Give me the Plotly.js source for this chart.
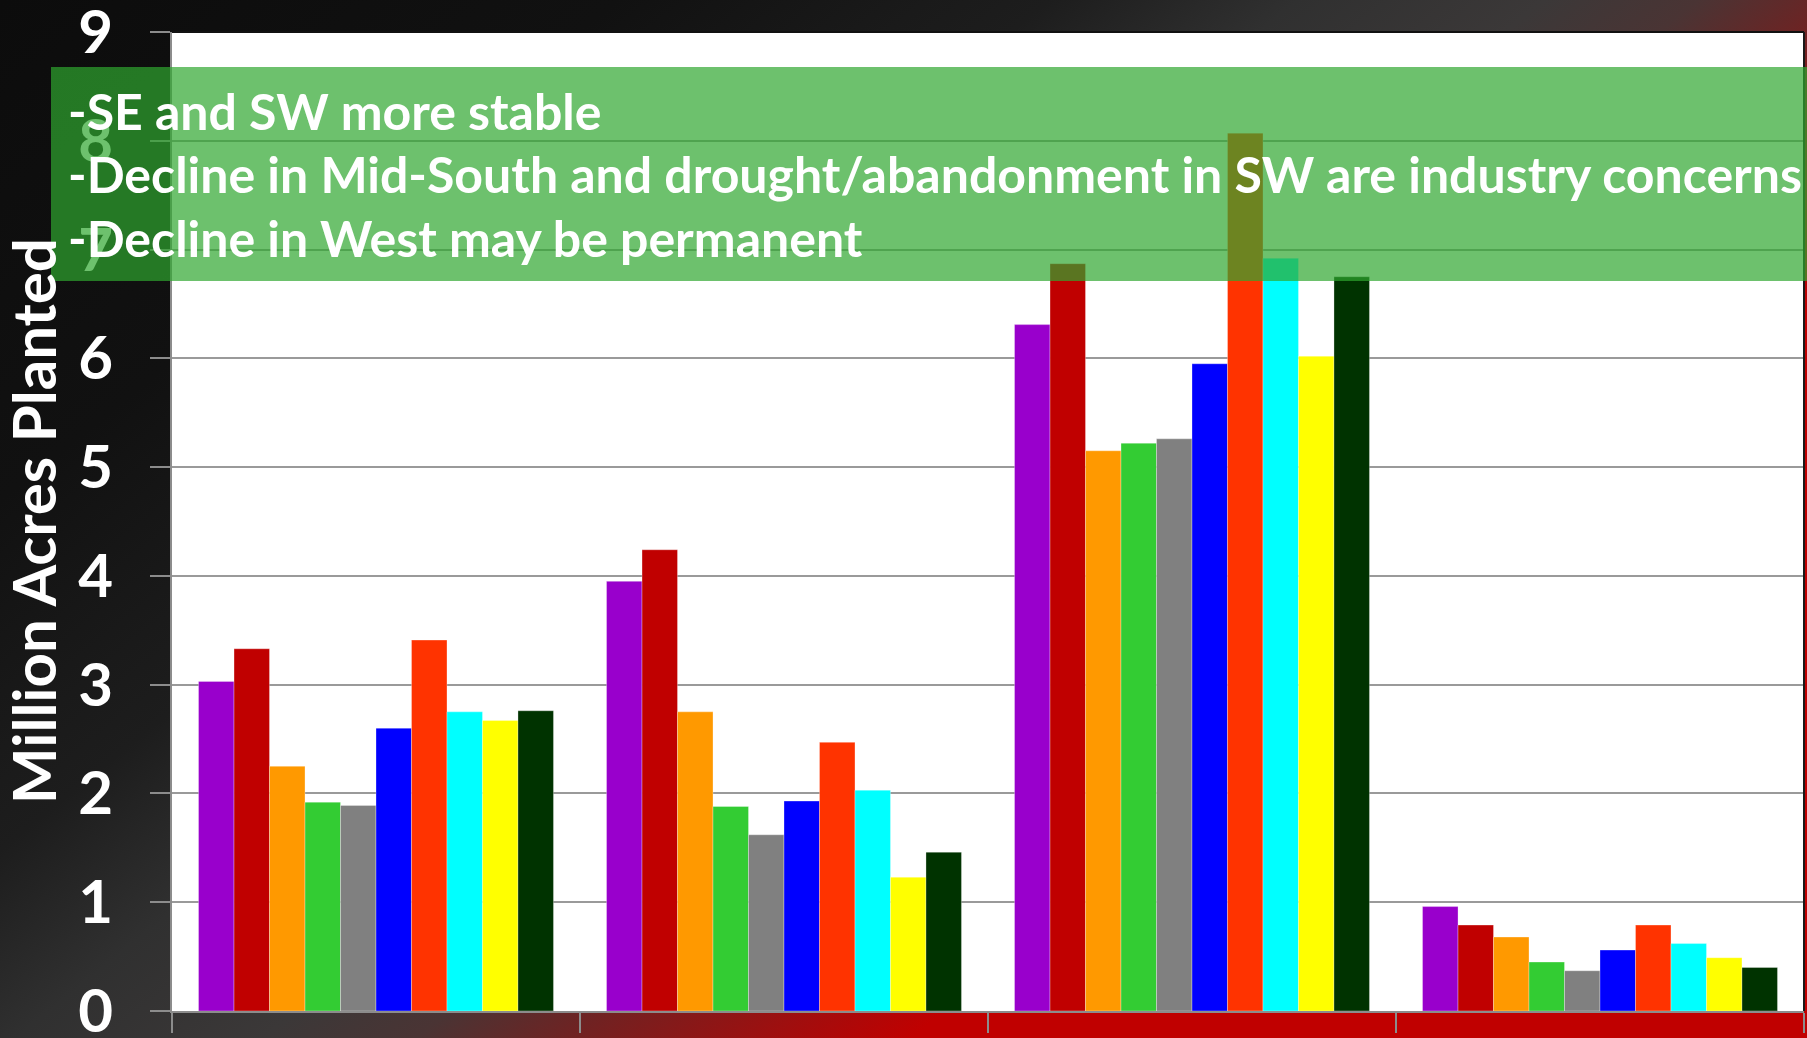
<!DOCTYPE html>
<html>
<head>
<meta charset="utf-8">
<script src="https://cdn.plot.ly/plotly-3.0.1.min.js"></script>
<style>
  html, body { margin: 0; padding: 0; }
  body {
    width: 1807px; height: 1038px; overflow: hidden;
    background: linear-gradient(141deg,
      #0c0c0c 0%, #111111 20%, #1a1a1a 30%, #1d1d1d 34%, #303030 42%,
      #3b3838 50%, #4a3434 55%, #702222 60%, #9c1010 66%, #c00000 71%, #c00000 100%);
  }
  #chart { width: 1807px; height: 1038px; }
</style>
</head>
<body>
<div id="chart"></div>
<script>
// Cotton planted area by region, million acres
const regions = ['Southeast', 'Mid-South', 'Southwest', 'West'];
const years = ['2005', '2006', '2007', '2008', '2009', '2010', '2011', '2012', '2013', '2014'];

const acres2005 = [3.03, 3.95, 6.31, 0.96];
const acres2006 = [3.33, 4.24, 6.87, 0.79];
const acres2007 = [2.25, 2.75, 5.15, 0.68];
const acres2008 = [1.92, 1.88, 5.22, 0.45];
const acres2009 = [1.89, 1.62, 5.26, 0.37];
const acres2010 = [2.60, 1.93, 5.95, 0.56];
const acres2011 = [3.41, 2.47, 8.07, 0.79];
const acres2012 = [2.75, 2.03, 6.92, 0.62];
const acres2013 = [2.67, 1.23, 6.02, 0.49];
const acres2014 = [2.76, 1.46, 6.75, 0.40];

const seriesValues = [acres2005, acres2006, acres2007, acres2008, acres2009,
                      acres2010, acres2011, acres2012, acres2013, acres2014];
const seriesColors = ['#9900CC', '#C00000', '#FF9900', '#33CC33', '#808080',
                      '#0000FF', '#FF3300', '#00FFFF', '#FFFF00', '#003300'];

const yTickValues = [0, 1, 2, 3, 4, 5, 6, 7, 8, 9];
const yTitle = 'Million Acres Planted';
const notes = [
  '-SE and SW more stable',
  '-Decline in Mid-South and drought/abandonment in SW are industry concerns',
  '-Decline in West may be permanent'
];

const FONT = 'Lato, "Open Sans", sans-serif';
const GRAY = '#8c8c8c';

const traces = years.map((yr, i) => ({
  type: 'bar',
  name: yr,
  x: regions,
  y: seriesValues[i],
  marker: { color: seriesColors[i], line: { color: 'rgba(255,255,255,0.3)', width: 1 } },
  hoverinfo: 'x+y+name'
}));

// plot area in pixels: x 172..1804, y 32..1011
const W = 1807, H = 1038;
const L = 172, R = 3, T = 32, B = 27;
const pw = W - L - R, ph = H - T - B;
const px = v => (v - L) / pw;          // pixel x -> paper x
const py = v => (H - B - v) / ph;      // pixel y -> paper y

const noteCentres = [111, 174, 238];
const annotations = notes.map((t, i) => ({
  text: t, xref: 'paper', yref: 'paper',
  x: px(66), y: py(noteCentres[i]), xanchor: 'left', yanchor: 'middle',
  showarrow: false, align: 'left',
  font: { family: FONT, size: 50, color: '#ffffff', weight: 700 }
}));
annotations.unshift({
  text: yTitle, xref: 'paper', yref: 'paper',
  x: px(33), y: py(521), xanchor: 'center', yanchor: 'middle',
  textangle: -90, showarrow: false,
  font: { family: FONT, size: 60, color: '#ffffff', weight: 700 }
});

const layout = {
  width: W, height: H,
  margin: { l: L, r: R, t: T, b: B, pad: 0 },
  paper_bgcolor: 'rgba(0,0,0,0)',
  plot_bgcolor: '#ffffff',
  barmode: 'group',
  bargap: 0.13,
  bargroupgap: 0,
  showlegend: false,
  xaxis: {
    type: 'category',
    showticklabels: false,
    showgrid: false,
    tickson: 'boundaries',
    ticks: 'outside', ticklen: 20, tickwidth: 2, tickcolor: GRAY,
    showline: true, linecolor: GRAY, linewidth: 2,
    zeroline: false
  },
  yaxis: {
    range: [0, 9],
    tickmode: 'array', tickvals: yTickValues, ticktext: yTickValues.map(String),
    ticks: 'outside', ticklen: 20, tickwidth: 2, tickcolor: GRAY,
    ticklabelstandoff: 25,
    ticklabeloverflow: 'allow',
    tickfont: { family: FONT, size: 60, color: '#ffffff', weight: 700 },
    showgrid: true, gridcolor: '#9a9a9a', gridwidth: 2,
    showline: true, linecolor: GRAY, linewidth: 2,
    zeroline: false
  },
  shapes: [
    { type: 'line', xref: 'paper', yref: 'paper', x0: 0, x1: 1, y0: 1, y1: 1,
      line: { color: '#111111', width: 2 }, layer: 'above' },
    { type: 'line', xref: 'paper', yref: 'paper', x0: 1, x1: 1, y0: 0, y1: 1,
      line: { color: '#1a1a1a', width: 2 }, layer: 'above' },
    { type: 'rect', xref: 'paper', yref: 'paper',
      x0: px(51), x1: px(1810), y0: py(281), y1: py(67),
      fillcolor: 'rgba(47,166,47,0.7)', line: { width: 0 }, layer: 'above' }
  ],
  annotations: annotations
};

Plotly.newPlot('chart', traces, layout, { displayModeBar: false, staticPlot: true });
</script>
</body>
</html>
